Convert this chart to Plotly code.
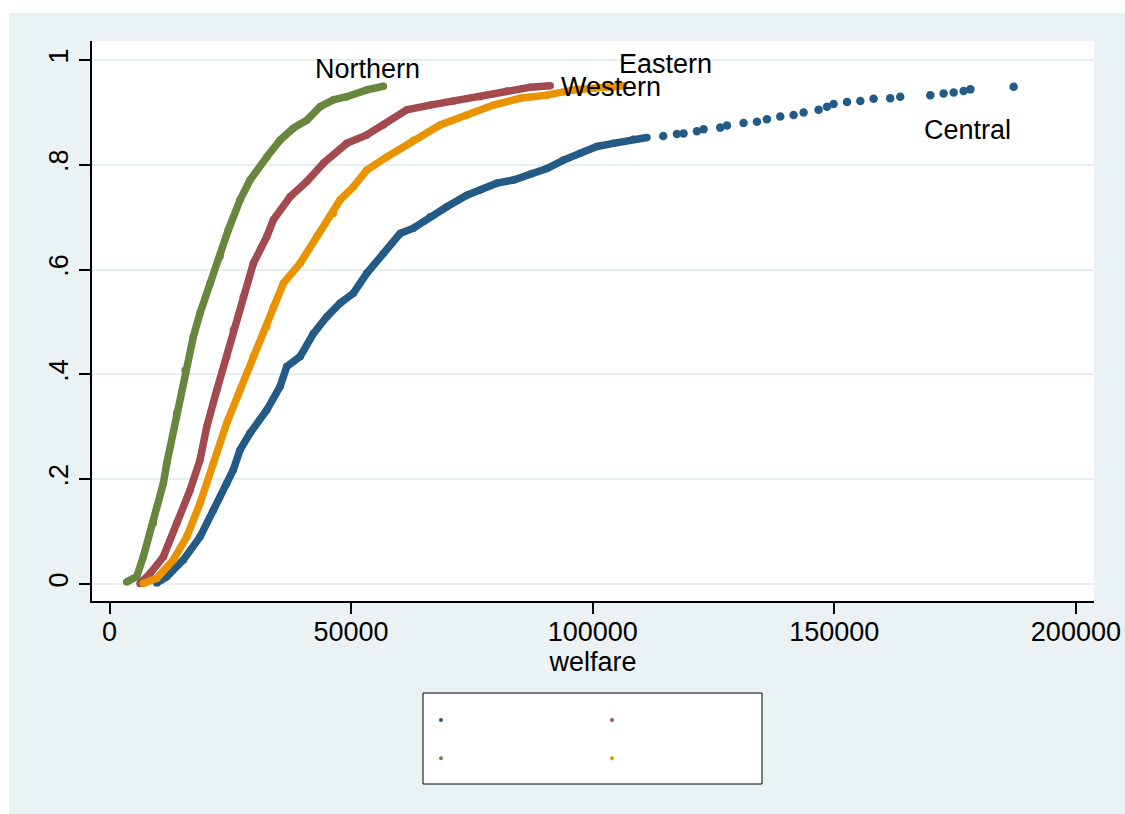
import plotly.graph_objects as go

# ---------------- data ----------------
central_x = [9772, 11843, 15280, 18737, 21491, 24265, 25631, 27018, 29089, 32547,
             35300, 36687, 39442, 42195, 44969, 47723, 50476, 53250, 56687, 60144,
             62899, 66356, 69814, 73954, 76702, 80160, 83603, 87061, 90518, 93955,
             97412, 100870, 104307, 108447, 111222]
central_y = [0.002, 0.014, 0.046, 0.090, 0.141, 0.192, 0.218, 0.256, 0.288, 0.332,
             0.377, 0.415, 0.434, 0.478, 0.510, 0.536, 0.555, 0.593, 0.631, 0.669,
             0.679, 0.701, 0.720, 0.742, 0.752, 0.765, 0.771, 0.782, 0.793, 0.809,
             0.822, 0.835, 0.841, 0.849, 0.852]
central_tail_x = [114596, 117432, 118798, 121572, 122939, 126395, 127783, 131220,
                  133994, 136064, 138818, 141572, 143643, 146748, 148488, 149854,
                  152628, 155382, 158135, 161572, 163643, 169873, 172626, 174696,
                  176767, 178157, 187120]
central_tail_y = [0.855, 0.859, 0.860, 0.864, 0.868, 0.871, 0.875, 0.880,
                  0.882, 0.887, 0.892, 0.895, 0.900, 0.905, 0.911, 0.916,
                  0.920, 0.922, 0.926, 0.927, 0.930, 0.933, 0.936, 0.938,
                  0.941, 0.944, 0.949]

eastern_x = [6315, 8385, 11139, 13913, 16667, 18737, 20124, 22195, 24265, 25631,
             27702, 29772, 32547, 33913, 37371, 40828, 44265, 49109, 53250, 56687,
             61532, 66356, 71181, 76702, 82237, 87061, 91202]
eastern_y = [0.001, 0.020, 0.052, 0.116, 0.179, 0.237, 0.300, 0.370, 0.434, 0.485,
             0.548, 0.612, 0.663, 0.695, 0.739, 0.768, 0.803, 0.841, 0.857, 0.876,
             0.905, 0.914, 0.922, 0.930, 0.941, 0.948, 0.951]

northern_x = [3561, 5631, 6998, 9068, 11139, 11843, 13913, 15632, 17350, 18737,
              20807, 22878, 24596, 27018, 29089, 32547, 35300, 38054, 40828, 43581,
              46335, 49109, 53250, 56687]
northern_y = [0.004, 0.014, 0.052, 0.116, 0.192, 0.230, 0.326, 0.408, 0.472, 0.517,
              0.574, 0.625, 0.676, 0.733, 0.771, 0.815, 0.847, 0.870, 0.885, 0.911,
              0.924, 0.930, 0.943, 0.950]

western_x = [6998, 9772, 13209, 15983, 18737, 21491, 24265, 27018, 29772, 32547,
             33913, 35983, 39442, 42898, 46335, 47723, 50476, 53250, 57391, 62899,
             68426, 73954, 79462, 84990, 90518, 96028, 104300, 106314]
western_y = [0.001, 0.011, 0.046, 0.090, 0.154, 0.230, 0.307, 0.370, 0.434, 0.491,
             0.529, 0.574, 0.612, 0.663, 0.707, 0.733, 0.758, 0.790, 0.815, 0.847,
             0.876, 0.895, 0.914, 0.927, 0.933, 0.943, 0.949, 0.951]

region_names = ["Central", "Eastern", "Northern", "Western"]
colors = {"Central": "#235B86", "Eastern": "#A34A4F", "Northern": "#66873D", "Western": "#EA9300"}

x_ticks = [0, 50000, 100000, 150000, 200000]
x_tick_labels = ["0", "50000", "100000", "150000", "200000"]
y_ticks = [0, 0.2, 0.4, 0.6, 0.8, 1.0]
y_tick_labels = ["0", ".2", ".4", ".6", ".8", "1"]
x_title = "welfare"

# ---------------- figure ----------------
FONT = "Liberation Sans, Arial, Helvetica, sans-serif"
W, H = 1125, 814
ML, MR, MT, MB = 92, 31, 41, 213
LW = 7.5

fig = go.Figure()

series = {
    "Central": (central_x, central_y),
    "Eastern": (eastern_x, eastern_y),
    "Northern": (northern_x, northern_y),
    "Western": (western_x, western_y),
}
for name in region_names:
    xs, ys = series[name]
    fig.add_trace(go.Scatter(
        x=xs, y=ys, mode="lines+markers", name=name, showlegend=False,
        line=dict(color=colors[name], width=LW),
        marker=dict(color=colors[name], size=LW),
        hoverinfo="skip"))
    if name == "Central":
        fig.add_trace(go.Scatter(
            x=central_tail_x, y=central_tail_y, mode="markers", name=name,
            showlegend=False, marker=dict(color=colors[name], size=8.5),
            hoverinfo="skip"))

# legend keys (no text, as in the reference): two columns
legend_of = {"Central": "legend", "Northern": "legend",
             "Eastern": "legend2", "Western": "legend2"}
for name in ["Central", "Northern", "Eastern", "Western"]:
    fig.add_trace(go.Scatter(
        x=[None], y=[None], mode="markers", name=" ",
        legend=legend_of[name], showlegend=True,
        marker=dict(color=colors[name], size=4)))

# end labels
label_shift = {"Northern": (-16, 17), "Eastern": (115, 22),
               "Western": (-12, -1), "Central": (-46, -43)}
for name in region_names:
    xs, ys = series[name] if name != "Central" else (central_tail_x, central_tail_y)
    dx, dy = label_shift[name]
    fig.add_annotation(x=xs[-1], y=ys[-1], text=name, showarrow=False,
                       xshift=dx, yshift=dy, xanchor="center", yanchor="middle",
                       font=dict(family=FONT, size=27, color="black"))

pw = W - ML - MR
ph = H - MT - MB
def px_x(p):
    return (p - ML) / pw
def px_y(p):
    return (H - MB - p) / ph

# graph-region white edges (left and top)
fig.add_shape(type="rect", xref="paper", yref="paper",
              x0=px_x(-20), x1=px_x(9), y0=px_y(900), y1=px_y(-20),
              fillcolor="white", line=dict(width=0), layer="below")
fig.add_shape(type="rect", xref="paper", yref="paper",
              x0=px_x(-20), x1=px_x(1200), y0=px_y(13), y1=px_y(-20),
              fillcolor="white", line=dict(width=0), layer="below")
# legend box
fig.add_shape(type="rect", xref="paper", yref="paper",
              x0=px_x(423), x1=px_x(762), y0=px_y(784), y1=px_y(693),
              fillcolor="white", line=dict(color="black", width=1), layer="below")

legend_common = dict(bgcolor="rgba(0,0,0,0)", borderwidth=0, orientation="v",
                     font=dict(family=FONT, size=27, color="black"),
                     xanchor="left", yanchor="top", itemclick=False,
                     itemdoubleclick=False)

fig.update_layout(
    width=W, height=H,
    margin=dict(l=ML, r=MR, t=MT, b=MB, autoexpand=False),
    paper_bgcolor="#EAF2F3", plot_bgcolor="white",
    font=dict(family=FONT, size=27, color="black"),
    legend=dict(x=px_x(421), y=px_y(696), **legend_common),
    legend2=dict(x=px_x(592), y=px_y(696), **legend_common),
    xaxis=dict(range=[-3622, 203746], tickvals=x_ticks, ticktext=x_tick_labels,
               showgrid=False, zeroline=False, showline=True, linecolor="black",
               linewidth=1.5, ticks="outside", ticklen=11, tickwidth=1.5,
               tickcolor="black", tickfont=dict(family=FONT, size=27),
               ticklabelstandoff=-5,
               title=dict(text=x_title, font=dict(family=FONT, size=27), standoff=4)),
    yaxis=dict(range=[-0.0324, 1.0363], tickvals=y_ticks, ticktext=y_tick_labels,
               showgrid=True, gridcolor="#E6EEF0", gridwidth=1.5, zeroline=False,
               showline=True, linecolor="black", linewidth=1.5, ticks="outside",
               ticklen=11, tickwidth=1.5, tickcolor="black", tickangle=-90,
               tickfont=dict(family=FONT, size=27)),
)

fig.write_html("out.html")
